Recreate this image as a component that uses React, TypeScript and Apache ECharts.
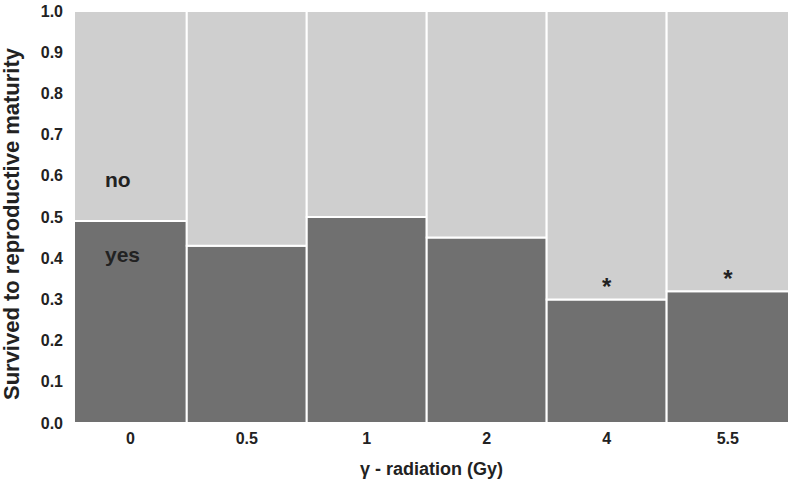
import React, { useEffect, useRef } from "react";
import * as echarts from "echarts";

const categories = ["0", "0.5", "1", "2", "4", "5.5"];
// relative group sizes (mosaic tile widths)
const groupWidths = [0.94, 1, 1, 1, 1, 1.02];
const yesValues = [0.49, 0.43, 0.5, 0.45, 0.3, 0.32];
const significant = [false, false, false, false, true, true];
const groupLabels = ["yes", "no"];
const groupLabelValues = [0.41, 0.59];
const yTicks = [0, 0.1, 0.2, 0.3, 0.4, 0.5, 0.6, 0.7, 0.8, 0.9, 1.0];

const FONT = "Liberation Sans, Arial, sans-serif";

export default function App() {
  const ref = useRef<HTMLDivElement>(null);
  useEffect(() => {
    document.body.style.margin = "0";
    const cum: number[] = [0];
    groupWidths.forEach((w, i) => cum.push(cum[i] + w));
    const total = cum[cum.length - 1];
    const centers = categories.map((_, i) => (cum[i] + cum[i + 1]) / 2);
    const data = categories.map((_, i) => [cum[i], cum[i + 1], yesValues[i], significant[i] ? 1 : 0, i]);

    const chart = echarts.init(ref.current!, null, { renderer: "svg" });
    chart.setOption({
      animation: false,
      grid: { left: 74, right: 3, top: 11, bottom: 61, outerBoundsMode: "none" },
      xAxis: {
        type: "value",
        min: 0,
        max: total,
        axisLine: { show: false },
        axisTick: { show: false },
        splitLine: { show: false },
        axisLabel: {
          customValues: centers,
          color: "#222",
          fontWeight: "bold",
          fontSize: 16,
          fontFamily: FONT,
          margin: 7,
          formatter: (v: number) => {
            let best = 0;
            centers.forEach((c, i) => {
              if (Math.abs(c - v) < Math.abs(centers[best] - v)) best = i;
            });
            return categories[best];
          },
        },
        name: "γ - radiation (Gy)",
        nameLocation: "middle",
        nameGap: 37,
        nameTextStyle: { color: "#222", fontWeight: "bold", fontSize: 18, fontFamily: FONT },
      },
      yAxis: {
        type: "value",
        min: 0,
        max: 1,
        axisLine: { show: false },
        axisTick: { show: false },
        splitLine: { show: false },
        axisLabel: {
          customValues: yTicks,
          color: "#222",
          fontWeight: "bold",
          fontSize: 16,
          fontFamily: FONT,
          margin: 11,
          formatter: (v: number) => v.toFixed(1),
        },
        name: "Survived to reproductive maturity",
        nameLocation: "middle",
        nameGap: 52,
        nameTextStyle: { color: "#222", fontWeight: "bold", fontSize: 22, fontFamily: FONT, padding: [0, 14, 0, 0] },
      },
      series: [
        {
          type: "custom",
          data,
          encode: { x: [0, 1], y: 2 },
          renderItem: (params: any, api: any) => {
            const x0 = api.value(0);
            const x1 = api.value(1);
            const yes = api.value(2);
            const sig = api.value(3);
            const idx = api.value(4);
            const bl = api.coord([x0, 0]);
            const tr = api.coord([x1, 1]);
            const mid = api.coord([x0, yes]);
            const w = tr[0] - bl[0];
            const children: any[] = [
              {
                type: "rect",
                shape: { x: bl[0], y: mid[1], width: w, height: bl[1] - mid[1] },
                style: { fill: "#707070", stroke: "#ffffff", lineWidth: 2 },
              },
              {
                type: "rect",
                shape: { x: bl[0], y: tr[1], width: w, height: mid[1] - tr[1] },
                style: { fill: "#cfcfcf", stroke: "#ffffff", lineWidth: 2 },
              },
            ];
            if (sig) {
              children.push({
                type: "text",
                x: bl[0] + w / 2,
                y: mid[1] - 1,
                style: {
                  text: "*",
                  fill: "#222",
                  fontSize: 24,
                  fontWeight: "bold",
                  fontFamily: FONT,
                  align: "center",
                  verticalAlign: "bottom",
                },
              });
            }
            if (idx === 0) {
              groupLabels.forEach((lab, k) => {
                const p = api.coord([x0, groupLabelValues[k]]);
                children.push({
                  type: "text",
                  x: p[0] + 31,
                  y: p[1],
                  style: {
                    text: lab,
                    fill: "#222",
                    fontSize: 21,
                    fontWeight: "bold",
                    fontFamily: FONT,
                    align: "left",
                    verticalAlign: "middle",
                  },
                });
              });
            }
            return { type: "group", children };
          },
        },
      ],
    });
    return () => chart.dispose();
  }, []);
  return <div ref={ref} style={{ width: 792, height: 484 }} />;
}
